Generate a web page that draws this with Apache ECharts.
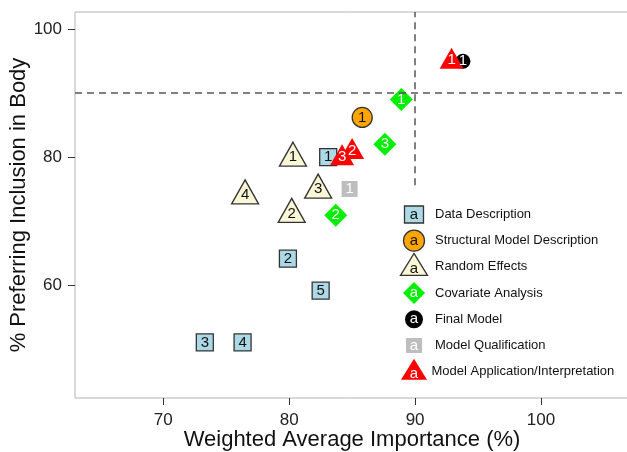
<!DOCTYPE html>
<html>
<head>
<meta charset="utf-8">
<style>
  html, body { margin: 0; padding: 0; background: #fff; }
  #chart { width: 627px; height: 452px; }
</style>
</head>
<body>
<div id="chart"></div>
<script src="https://cdn.jsdelivr.net/npm/echarts@6/dist/echarts.min.js"></script>
<script>
// 数据
var xTicks = [70, 80, 90, 100];
var yTicks = [60, 80, 100];

var dataDescX = [83.1, 79.9, 73.3, 76.3, 82.5];
var dataDescY = [80.0, 64.1, 51.0, 51.0, 59.1];
var dataDescLab = ['1', '2', '3', '4', '5'];

var structX = [85.8];
var structY = [86.2];
var structLab = ['1'];

var randomX = [80.3, 80.2, 82.3, 76.5];
var randomY = [80.3, 71.5, 75.3, 74.4];
var randomLab = ['1', '2', '3', '4'];

var covX = [88.9, 83.7, 87.6];
var covY = [89.0, 70.9, 82.0];
var covLab = ['1', '2', '3'];

var finalX = [93.8];
var finalY = [95.0];
var finalLab = ['1'];

var qualX = [84.8];
var qualY = [75.0];
var qualLab = ['1'];

var applX = [92.9, 85.0, 84.2];
var applY = [95.3, 81.2, 80.2];
var applLab = ['1', '2', '3'];

var hLineY = 90;
var vLineX = 90;
var vLineFrom = 75.6;

var FONT = '"Liberation Sans", Arial, Helvetica, sans-serif';

function pts(xs, ys, labs) {
  return xs.map(function (x, i) { return [x, ys[i], labs[i]]; });
}

function mk(name, xs, ys, labs, symbol, size, color, border, txt, extra) {
  var s = {
    name: name,
    type: 'scatter',
    symbol: symbol,
    symbolSize: size,
    data: pts(xs, ys, labs),
    itemStyle: { color: color, borderColor: border ? '#333' : color, borderWidth: border ? 1.3 : 0, opacity: 1 },
    label: {
      show: true, position: 'inside', formatter: function (p) { return p.data[2]; },
      color: txt, fontSize: 15, fontFamily: FONT
    },
    emphasis: { disabled: true }
  };
  for (var k in extra) s[k] = extra[k];
  return s;
}

var series = [
  mk('Data Description', dataDescX, dataDescY, dataDescLab, 'rect', [17, 17], '#ADD8E6', true, '#111', {}),
  mk('Structural Model Description', structX, structY, structLab, 'circle', 20, '#FFA500', true, '#111', {}),
  mk('Random Effects', randomX, randomY, randomLab, 'triangle', [27, 24], '#FAF7D6', true, '#111', { symbolOffset: [0, -1] }),
  mk('Covariate Analysis', covX, covY, covLab, 'diamond', [23, 23], '#00EE00', false, '#fff', {}),
  mk('Final Model', finalX, finalY, finalLab, 'circle', 15, '#000', false, '#fff', {}),
  mk('Model Qualification', qualX, qualY, qualLab, 'rect', [16, 16], '#BEBEBE', false, '#fff', {}),
  mk('Model Application/Interpretation', applX, applY, applLab, 'triangle', [24, 21], '#FF0000', false, '#fff', { symbolOffset: [0, -1] })
];
series[2].label.offset = [0, 3];
series[6].label.offset = [0, 2];

// 参考线
series[0].markLine = {
  silent: true,
  symbol: 'none',
  label: { show: false },
  lineStyle: { color: '#555', type: [7, 5], width: 1.5 },
  data: [
    { yAxis: hLineY },
    [{ coord: [vLineX, vLineFrom] }, { coord: [vLineX, 102.7] }]
  ]
};

// 图例 (drawn by hand: each key carries an "a")
var legendItems = [
  { name: 'Data Description', shape: 'rect', w: 19, h: 17, color: '#ADD8E6', border: true, txt: '#111' },
  { name: 'Structural Model Description', shape: 'circle', w: 21, h: 21, color: '#FFA500', border: true, txt: '#111' },
  { name: 'Random Effects', shape: 'tri', w: 27, h: 21, color: '#FAF7D6', border: true, txt: '#111' },
  { name: 'Covariate Analysis', shape: 'diamond', w: 22, h: 22, color: '#00EE00', border: false, txt: '#fff' },
  { name: 'Final Model', shape: 'circle', w: 18, h: 18, color: '#000', border: false, txt: '#fff' },
  { name: 'Model Qualification', shape: 'rect', w: 16, h: 15, color: '#BEBEBE', border: false, txt: '#fff' },
  { name: 'Model Application/Interpretation', shape: 'tri', w: 26, h: 20, color: '#FF0000', border: false, txt: '#fff' }
];

var graphic = [];
var lx = 414, ly0 = 214.5, step = 26.2;
legendItems.forEach(function (it, i) {
  var cy = ly0 + i * step;
  var style = { fill: it.color, stroke: it.border ? '#333' : null, lineWidth: it.border ? 1.3 : 0 };
  var el;
  if (it.shape === 'rect') {
    el = { type: 'rect', shape: { x: lx - it.w / 2, y: cy - it.h / 2, width: it.w, height: it.h }, style: style };
  } else if (it.shape === 'circle') {
    el = { type: 'circle', shape: { cx: lx, cy: cy, r: it.w / 2 }, style: style };
  } else if (it.shape === 'tri') {
    el = { type: 'polygon', shape: { points: [[lx, cy - it.h / 2 - 3], [lx + it.w / 2, cy + it.h / 2 - 2], [lx - it.w / 2, cy + it.h / 2 - 2]] }, style: style };
  } else {
    el = { type: 'polygon', shape: { points: [[lx, cy - it.h / 2], [lx + it.w / 2, cy], [lx, cy + it.h / 2], [lx - it.w / 2, cy]] }, style: style };
  }
  graphic.push(el);
  graphic.push({
    type: 'text', x: lx, y: cy + (it.shape === 'tri' ? 2 : 0),
    style: { text: 'a', fill: it.txt, font: '15px ' + FONT, align: 'center', verticalAlign: 'middle' }
  });
  graphic.push({
    type: 'text', x: i === 6 ? 431.5 : 435, y: cy,
    style: { text: it.name, fill: '#111', font: '13px ' + FONT, align: 'left', verticalAlign: 'middle' }
  });
});

var myChart = echarts.init(document.getElementById('chart'), null, { renderer: 'canvas' });
myChart.setOption({
  animation: false,
  backgroundColor: '#fff',
  grid: {
    left: 75, top: 12, right: -2, bottom: 54, outerBoundsMode: 'none', containLabel: false,
    show: true, borderColor: '#b3b3b3', borderWidth: 1, backgroundColor: 'transparent'
  },
  xAxis: {
    type: 'value', min: 62.99, max: 106.99,
    name: 'Weighted Average Importance (%)', nameLocation: 'middle', nameGap: 31, nameMoveOverlap: false,
    nameTextStyle: { fontSize: 22, color: '#111', fontFamily: FONT },
    splitLine: { show: false },
    axisLine: { show: false },
    axisTick: { show: true, customValues: xTicks, length: 7, lineStyle: { color: '#333', width: 1 } },
    axisLabel: { customValues: xTicks, fontSize: 17, color: '#222', fontFamily: FONT, margin: 14 }
  },
  yAxis: {
    type: 'value', min: 42.3, max: 102.7,
    name: '% Preferring Inclusion in Body', nameLocation: 'middle', nameGap: 45, nameMoveOverlap: false,
    nameTextStyle: { fontSize: 22, color: '#111', fontFamily: FONT },
    splitLine: { show: false },
    axisLine: { show: false },
    axisTick: { show: true, customValues: yTicks, length: 7, lineStyle: { color: '#333', width: 1 } },
    axisLabel: { customValues: yTicks, fontSize: 17, color: '#222', fontFamily: FONT, margin: 13 }
  },
  graphic: graphic,
  series: series
});
</script>
</body>
</html>
